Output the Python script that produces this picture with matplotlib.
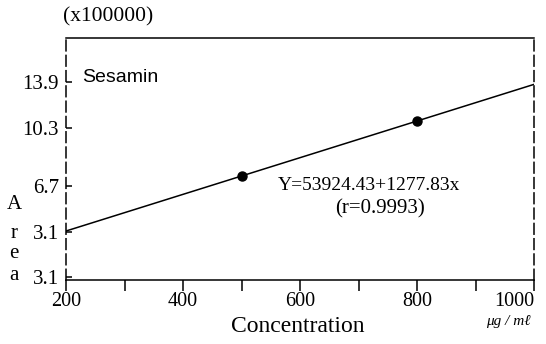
import matplotlib
matplotlib.use("Agg")
import matplotlib.pyplot as plt
import numpy as np

# Data (Area in units of 100000)
conc_points = [500, 800]
area_points = [6.93, 10.76]
line_x = [200, 1000]
intercept = 0.5392443   # 53924.43 / 1e5
slope = 0.0127783       # 1277.83 / 1e5

x_ticks = [200, 300, 400, 500, 600, 700, 800, 900, 1000]
x_labels = ["200", "", "400", "", "600", "", "800", "", "1000"]
y_ticks = [-0.1, 3.0, 6.25, 10.3, 13.5]
y_labels = ["3.1", "3.1", "6.7", "10.3", "13.9"]

plt.rcParams['font.family'] = ['Liberation Serif', 'DejaVu Serif']

fig = plt.figure(figsize=(5.46, 3.44), dpi=100)
ax = fig.add_axes([66/546, 1-280/344, (534-66)/546, (280-38)/344])

lx = np.array(line_x, dtype=float)
ax.plot(lx, intercept + slope*lx, color='black', lw=1.1)
ax.plot(conc_points, area_points, 'o', color='black', ms=6.5)

ax.set_xlim(200, 1000)
ax.set_ylim(-0.32, 16.55)

for s in ['left', 'right']:
    ax.spines[s].set_linestyle((0, (7, 3)))
    ax.spines[s].set_linewidth(1.1)
for s in ['top', 'bottom']:
    ax.spines[s].set_linewidth(1.1)

ax.set_xticks(x_ticks)
ax.set_xticklabels(x_labels)
ax.tick_params(axis='x', direction='out', length=8, width=1.1, labelsize=14.5, pad=1)
lbls = ax.get_xticklabels()
lbls[-1].set_ha('right')

ax.set_yticks(y_ticks)
ax.set_yticklabels(y_labels)
ax.tick_params(axis='y', direction='in', length=4, width=1.1, labelsize=15, pad=5)

fig.text(63/546, 1-17/344, "(x100000)", fontsize=15.5, ha='left', va='center')
fig.text(82/546, 1-77/344, "Sesamin", fontsize=14, ha='left', va='center',
         family=['Liberation Sans', 'DejaVu Sans'])
fig.text(278/546, 1-186/344, "Y=53924.43+1277.83x", fontsize=14, ha='left', va='center')
fig.text(380/546, 1-209/344, "(r=0.9993)", fontsize=15, ha='center', va='center')
fig.text(298/546, 1-326/344, "Concentration", fontsize=17, ha='center', va='center')
fig.text(531/546, 1-321/344, "μg / mℓ", fontsize=11, ha='right', va='center', style='italic')

for ch, yy in zip("Area", [204, 233, 254, 275]):
    fig.text(14/546, 1-yy/344, ch, fontsize=15, ha='center', va='center')

fig.savefig("out.png", dpi=100)
